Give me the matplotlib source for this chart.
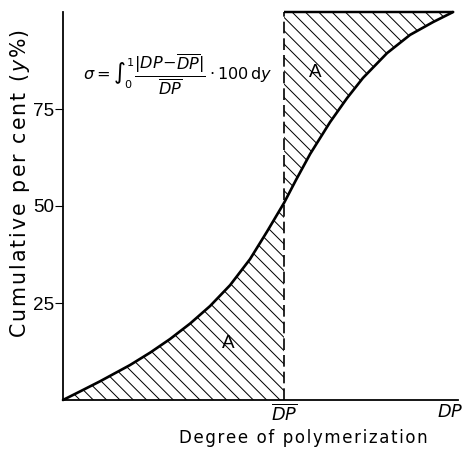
import matplotlib
matplotlib.use("Agg")
import matplotlib.pyplot as plt

# curve: degree of polymerization (DP / DP-bar) vs cumulative %
dp_ratio = [0.0, 0.077, 0.167, 0.303, 0.394, 0.484, 0.575, 0.665, 0.756, 0.846,
            0.923, 1.0, 1.054, 1.118, 1.208, 1.285, 1.357, 1.466, 1.570, 1.674, 1.765]
cum_pct = [0.0, 2.2, 4.8, 9.0, 12.2, 15.7, 19.7, 24.2, 29.6, 36.3,
           43.4, 50.8, 56.7, 63.4, 71.6, 77.8, 83.0, 89.4, 94.1, 97.4, 100.0]
dp_mean = 1.0
y_ticks = [25, 50, 75]
x_tick_pos = [1.0, 1.75]
x_tick_labels = [r"$\overline{DP}$", r"$DP$"]

DPI = 80
HAIR = "\u200a"
plt.rcParams["mathtext.fontset"] = "dejavusans"
plt.rcParams["hatch.linewidth"] = 0.9


def spaced(s, gap=HAIR):
    return gap.join(s)


fig = plt.figure(figsize=(466 / DPI, 451 / DPI), dpi=DPI)
ax = fig.add_axes([63 / 466, 51 / 451, 395 / 466, 388 / 451])

low_x = [x for x in dp_ratio if x <= dp_mean]
low_y = cum_pct[:len(low_x)]
high_x = [x for x in dp_ratio if x >= dp_mean]
high_y = cum_pct[len(dp_ratio) - len(high_x):]

ax.fill_between(low_x, 0, low_y, facecolor="none", edgecolor="black", hatch="\\\\", linewidth=0)
ax.fill_between(high_x, high_y, 100, facecolor="none", edgecolor="black", hatch="\\\\", linewidth=0)
ax.plot(dp_ratio, cum_pct, color="black", lw=2.4, solid_capstyle="round",
        solid_joinstyle="round", clip_on=False, zorder=3)
ax.vlines(dp_mean, 0, 100, colors="black", lw=1.5, linestyles=(0, (7, 3)), clip_on=False)
ax.hlines(100, dp_mean, dp_ratio[-1], colors="black", lw=2.2, clip_on=False)

ax.set_xlim(0, 1.787)
ax.set_ylim(0, 100)
for side in ["top", "right"]:
    ax.spines[side].set_visible(False)
for side in ["left", "bottom"]:
    ax.spines[side].set_linewidth(1.6)

ax.set_yticks(y_ticks)
ax.set_yticklabels([str(t) for t in y_ticks], fontsize=17, family="Liberation Sans")
ax.tick_params(axis="y", direction="out", length=7, width=1, pad=1)
ax.set_xticks(x_tick_pos)
ax.set_xticklabels(x_tick_labels, fontsize=16)
ax.tick_params(axis="x", length=0, pad=3)

fig.text(303 / 466, 1 - 438 / 451, spaced("Degree of polymerization"),
         fontsize=15, ha="center", va="center")
fig.text(20 / 466, 1 - 184 / 451,
         spaced("Cumulative per cent (") + HAIR + r"$y$" + HAIR + "%)",
         fontsize=18.5, ha="center", va="center", rotation=90)

ax.text(0.09, 83.8,
        r"$\sigma = \int_0^1 \dfrac{|DP\!-\!\overline{DP}|}{\overline{DP}}\cdot 100\,\mathrm{d}y$",
        fontsize=14.5, va="center", ha="left")
ax.text(1.14, 84.3, "A", fontsize=17, family="Liberation Sans", ha="center", va="center")
ax.text(0.75, 14.5, "A", fontsize=17, family="Liberation Sans", ha="center", va="center")

fig.savefig("out.png", dpi=DPI)
